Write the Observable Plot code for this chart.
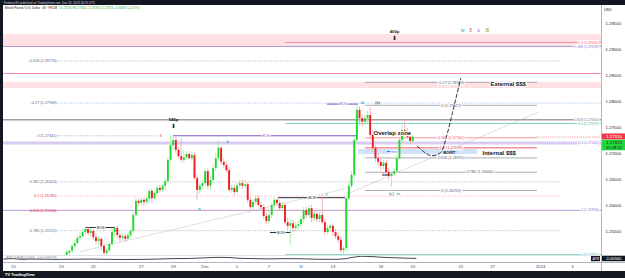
<!DOCTYPE html>
<html>
<head>
<meta charset="utf-8">
<script src="https://cdn.jsdelivr.net/npm/d3@7"></script>
<script src="https://cdn.jsdelivr.net/npm/@observablehq/plot@0.6"></script>
<style>
html,body{margin:0;padding:0;background:#fff;}
#wrap{position:relative;width:625px;height:278px;overflow:hidden;background:#fff;font-family:"Liberation Sans",Arial,sans-serif;}
.a{position:absolute;white-space:nowrap;}
</style>
</head>
<body>
<div id="wrap">
  <div id="main" class="a" style="left:3px;top:5px;"></div>
  <div id="atr" class="a" style="left:3px;top:255px;"></div>
  <div class="a" style="left:3px;top:255px;width:598px;height:1px;background:#e0e3eb;"></div>
  <div class="a" style="left:601px;top:5px;width:1px;height:266px;background:#b2b5be;"></div>
  <div class="a" style="left:3px;top:262px;width:622px;height:1px;background:#b2b5be;"></div>
  <div class="a" style="left:0;top:0;width:625px;height:5px;background:#131722;"></div>
  <div class="a" style="left:4px;top:0.5px;font-size:3px;line-height:4px;color:#d1d4dc;">Forbesxi30 published on TradingView.com, Dec 20, 2023 20:51 UTC</div>
  <div class="a" style="left:0;top:0;width:3px;height:278px;background:#131722;"></div>
  <div class="a" style="left:0;top:271px;width:625px;height:7px;background:#131722;"></div>
  <div class="a" style="left:5px;top:271.5px;font-size:4px;line-height:6px;color:#fff;font-weight:bold;">TV TradingView</div>
  <div id="legend" class="a" style="left:5px;top:6px;font-size:3px;line-height:4px;color:#131722;"></div>
  <div class="a" style="left:604px;top:7.5px;font-size:3.6px;color:#131722;">USD</div>
  <div id="atrlabel" class="a" style="left:6px;top:256px;font-size:3px;color:#787b86;"></div>
</div>
<script>
// ================= DATA =================
// 4-hour GBP/USD candles; x is the trading-day index (Nov 15 = 0)
const candleFirstDay = 3;      // first bar: Nov 20
const candlesPerDay = 6;
const candleOpen = [
 1.2490,1.2498,1.2502,1.2508,1.2512,1.2521,1.2527,1.2537,1.2540,1.2548,
 1.2554,1.2546,1.2550,1.2538,1.2531,1.2535,1.2521,1.2508,1.2513,1.2525,
 1.2548,1.2556,1.2542,1.2537,1.2540,1.2535,1.2542,1.2550,1.2581,1.2608,
 1.2604,1.2610,1.2606,1.2612,1.2627,1.2613,1.2623,1.2633,1.2629,1.2637,
 1.2646,1.2687,1.2715,1.2725,1.2706,1.2694,1.2687,1.2692,1.2698,1.2690,
 1.2696,1.2652,1.2629,1.2637,1.2642,1.2665,1.2637,1.2648,1.2671,1.2690,
 1.2710,1.2683,1.2677,1.2667,1.2629,1.2633,1.2625,1.2638,1.2642,1.2637,
 1.2640,1.2610,1.2596,1.2606,1.2613,1.2600,1.2596,1.2579,1.2569,1.2581,
 1.2600,1.2610,1.2604,1.2594,1.2600,1.2567,1.2560,1.2565,1.2556,1.2560,
 1.2563,1.2573,1.2590,1.2581,1.2594,1.2575,1.2583,1.2573,1.2581,1.2567,
 1.2548,1.2556,1.2560,1.2548,1.2540,1.2533,1.2513,1.2517,1.2613,1.2637,
 1.2658,1.2725,1.2783,1.2767,1.2760,1.2767,1.2773,1.2735,1.2710,1.2690,
 1.2683,1.2675,1.2681,1.2663,1.2656,1.2660,1.2665,1.2690,1.2725,1.2744,
 1.2740,1.2731,1.2723];
const candleHigh = [
 1.2502,1.2506,1.2513,1.2515,1.2525,1.2533,1.2542,1.2548,1.2554,1.2558,
 1.2558,1.2556,1.2554,1.2544,1.2540,1.2537,1.2525,1.2519,1.2529,1.2556,
 1.2560,1.2560,1.2546,1.2546,1.2546,1.2548,1.2554,1.2587,1.2613,1.2613,
 1.2615,1.2615,1.2617,1.2631,1.2631,1.2629,1.2638,1.2638,1.2642,1.2652,
 1.2692,1.2735,1.2733,1.2731,1.2713,1.2729,1.2706,1.2704,1.2704,1.2702,
 1.2700,1.2658,1.2642,1.2648,1.2671,1.2671,1.2656,1.2677,1.2700,1.2725,
 1.2713,1.2690,1.2683,1.2673,1.2640,1.2638,1.2644,1.2648,1.2648,1.2648,
 1.2644,1.2615,1.2612,1.2619,1.2619,1.2606,1.2602,1.2585,1.2587,1.2604,
 1.2615,1.2613,1.2610,1.2606,1.2604,1.2575,1.2573,1.2571,1.2567,1.2569,
 1.2579,1.2596,1.2596,1.2600,1.2600,1.2588,1.2588,1.2587,1.2619,1.2573,
 1.2562,1.2563,1.2565,1.2554,1.2546,1.2538,1.2521,1.2617,1.2644,1.2665,
 1.2731,1.2792,1.2790,1.2775,1.2773,1.2781,1.2788,1.2744,1.2715,1.2700,
 1.2690,1.2687,1.2687,1.2671,1.2665,1.2671,1.2696,1.2731,1.2754,1.2763,
 1.2748,1.2737,1.2735];
const candleLow = [
 1.2488,1.2494,1.2498,1.2504,1.2508,1.2517,1.2523,1.2531,1.2537,1.2542,
 1.2542,1.2540,1.2533,1.2525,1.2521,1.2513,1.2500,1.2500,1.2510,1.2521,
 1.2540,1.2537,1.2529,1.2531,1.2529,1.2533,1.2538,1.2546,1.2577,1.2598,
 1.2600,1.2598,1.2602,1.2608,1.2604,1.2610,1.2619,1.2623,1.2625,1.2629,
 1.2642,1.2683,1.2706,1.2700,1.2690,1.2683,1.2681,1.2687,1.2687,1.2685,
 1.2648,1.2610,1.2621,1.2629,1.2637,1.2631,1.2629,1.2642,1.2665,1.2685,
 1.2677,1.2671,1.2662,1.2625,1.2623,1.2619,1.2621,1.2633,1.2631,1.2633,
 1.2604,1.2590,1.2590,1.2600,1.2596,1.2590,1.2573,1.2563,1.2565,1.2575,
 1.2594,1.2598,1.2590,1.2588,1.2562,1.2552,1.2523,1.2548,1.2550,1.2552,
 1.2558,1.2567,1.2575,1.2575,1.2567,1.2569,1.2567,1.2567,1.2563,1.2542,
 1.2544,1.2550,1.2540,1.2535,1.2527,1.2508,1.2506,1.2510,1.2610,1.2633,
 1.2652,1.2721,1.2754,1.2752,1.2754,1.2758,1.2725,1.2702,1.2683,1.2675,
 1.2667,1.2669,1.2658,1.2648,1.2635,1.2656,1.2662,1.2687,1.2721,1.2735,
 1.2727,1.2719,1.2719];
const candleClose = [
 1.2498,1.2502,1.2510,1.2512,1.2521,1.2527,1.2537,1.2540,1.2548,1.2554,
 1.2546,1.2550,1.2538,1.2531,1.2535,1.2521,1.2508,1.2513,1.2525,1.2548,
 1.2556,1.2542,1.2537,1.2540,1.2535,1.2542,1.2550,1.2581,1.2608,1.2604,
 1.2610,1.2606,1.2612,1.2627,1.2613,1.2623,1.2633,1.2629,1.2637,1.2646,
 1.2687,1.2715,1.2725,1.2706,1.2694,1.2687,1.2692,1.2698,1.2690,1.2696,
 1.2652,1.2629,1.2637,1.2642,1.2665,1.2637,1.2648,1.2671,1.2690,1.2710,
 1.2683,1.2677,1.2667,1.2629,1.2633,1.2625,1.2638,1.2642,1.2637,1.2640,
 1.2610,1.2596,1.2606,1.2613,1.2600,1.2596,1.2579,1.2569,1.2581,1.2600,
 1.2610,1.2604,1.2594,1.2600,1.2567,1.2560,1.2565,1.2556,1.2560,1.2563,
 1.2573,1.2590,1.2581,1.2594,1.2575,1.2583,1.2573,1.2581,1.2567,1.2548,
 1.2556,1.2560,1.2548,1.2540,1.2533,1.2513,1.2517,1.2613,1.2637,1.2658,
 1.2725,1.2783,1.2767,1.2760,1.2767,1.2773,1.2735,1.2710,1.2690,1.2683,
 1.2675,1.2681,1.2663,1.2656,1.2660,1.2665,1.2690,1.2725,1.2744,1.2740,
 1.2731,1.2723,1.27313];

const dateTickDay   = [0, 3, 5, 8, 10, 12, 14, 16, 18, 20, 23, 25, 28, 30, 33, 35];
const dateTickLabel = ["15","20","22","27","29","Dec","5","7","11","13","18","20","25","27","2024","3"];
const priceTicks = [1.255, 1.26, 1.265, 1.27, 1.275, 1.28, 1.285, 1.29, 1.295];

// ATR(14) pane
const atrDay   = [-0.6,0,0.5,1,2,3,4,5,6,7,8,9,10,11,12,12.8,13.5,14,15,16,17,18,19,20,20.8,21.3,21.8,22.5,23,24,25.2];
const atrValue = [0.0052,0.0055,0.0050,0.0052,0.0051,0.0050,0.0051,0.0052,0.0050,0.0049,0.0050,0.0052,0.0055,0.0056,0.0060,0.0063,0.0062,0.0058,0.0055,0.0053,0.0055,0.0054,0.0051,0.0050,0.0055,0.0064,0.0070,0.0068,0.0064,0.0060,0.0056];
const atrLabel = 0.00560;

// Fibonacci (Nov swing) - left
const fibLeftRatio = [-0.618, -0.27, 0, 0.382, 0.5, 0.618, 0.786, 1];
const fibLeftPrice = [1.28776, 1.27968, 1.27341, 1.26454, 1.26180, 1.25906, 1.25515, 1.25019];
const fibLeftFrom = 2.76;
const fibLeftTo = [34.25, 36.82, 9.0, 34.25, 34.25, 34.25, 34.25, 34.25];

// Fibonacci (Dec 14 high -> Dec 18 low) - right
const fibRightRatio = [-0.27, 0, 0.382, 0.5, 0.618, 0.786, 1];
const fibRightPrice = [1.28369, 1.27927, 1.27302, 1.27109, 1.26915, 1.26640, 1.26290];
const fibRightFrom = 22.04, fibRightTo = 32.81;
const fibRightLabelDay = [27.4, 27.4, 27.4, 27.4, 27.4, 29.2, 27.4];

// horizontal levels
const fullPurple = [1.29058, 1.25906];
const fullPink = [1.28538];
const fullGrayThick = [1.27650];
const fullLavender = [1.27202];
const rayPinkFrom = 17.03, rayPink = [1.29135];
const rayTealFrom = 17.03, rayTeal = [1.27577, 1.25057];
const pinkZoneHi = [1.29288, 1.28365];
const pinkZoneLo = [1.29038, 1.28250];
const internalZone = {from: 21.6, to: 29.05, hi: 1.27077, lo: 1.26981};
const rightTagPrice = [1.29135, 1.29058, 1.27650, 1.27577, 1.27202, 1.25906, 1.25057];
const rightTagText = ["1.5 (1.29135)", "1.386 (1.29058)", "0.618 (1.27650)", "0.5 (1.27577)", "0.5 (1.27202)", "0 (1.25906)", "1 (1.25057)"];
const alertPrice = 1.27316;
const countdown = "01:08:12";

// structure breaks: [fromDay, toDay, price]
const bosBlack = [[4.51, 6.39, 1.25577], [16.09, 17.4, 1.25481]];
const ibosBlack = [[16.59, 20.79, 1.26150]];
const bosPurple = [[10.02, 21.6, 1.27341], [19.66, 21.6, 1.27950]];
const mssBlue = [[23.42, 24.23, 1.27038]];

// wave labels: [text, day, price]
const cyanWave = [["b", 13.4, 1.27231], ["a", 11.65, 1.25942], ["1", 19.6, 1.26212], ["iii", 21.85, 1.27981], ["iv", 24.1, 1.26231]];
const redWave = [["3", 9.2, 1.27342]];
const darkWave = [["(b)", 22.8, 1.27981], ["(c)", 23.67, 1.26231]];
const waveKeyText = ["iv", "5", "c", "B"];
const waveKeyDay = [28.12, 28.62, 29.12, 29.68];
const waveKeyPrice = 1.29365;

// move sizes
const moveText = ["545p", "400p"];
const moveDay = [10.02, 23.86];
const movePrice = [1.27654, 1.29346];

// notes: [text, day, price]
const bigNotes = [["Overlap zone", 22.54, 1.27385], ["External $$$", 29.87, 1.28327], ["Internal $$$", 29.37, 1.27000]];
const smallNotes = [["BO/RT", 27.3, 1.27019], ["bos", 23.3, 1.26596]];

// projected path
const projDay = [25.30, 26.11, 26.74, 27.11, 27.49, 28.0];
const projPrice = [1.27135, 1.26962, 1.27019, 1.27327, 1.27788, 1.28442];

// faint trend lines
const trendA = [[4.2, 1.25115], [20.79, 1.26326]];
const trendB = [[21.1, 1.26250], [32.8, 1.27788]];

// ================= DRAW =================
const xDom = [-0.626, 36.819];
const yDom = [1.250385, 1.298462];
const W = 622, H = 250, MR = 24;
const xs = d3.scaleLinear().domain(xDom).range([0, W - MR]);
const axisEnd = xs.invert(W);
const axisStart = xs.invert(W - MR + 1);

const candles = candleOpen.map((o, i) => ({
  day: candleFirstDay + i / candlesPerDay,
  open: o, high: candleHigh[i], low: candleLow[i], close: candleClose[i]
}));
const up = candles.filter(d => d.close >= d.open);
const dn = candles.filter(d => d.close < d.open);
const last = candles[candles.length - 1];
const prev = candles[candles.length - 2];

const GREEN = "#1fd82b", RED = "#ef1c24", GW = "#9fe8a3", RW = "#f6a0a5";
const GRAYL = "#a3a6af", GRAYT = "#6a6d78";
const halo = {stroke: "white", strokeWidth: 2, paintOrder: "stroke"};

const fibL = fibLeftRatio.map((r, i) => ({r, p: fibLeftPrice[i], to: fibLeftTo[i]}));
const fibR = fibRightRatio.map((r, i) => ({r, p: fibRightPrice[i], lx: fibRightLabelDay[i]}));
const leftLine = r => r === -0.27 ? "#8fb4ee" : (r === 0.5 || r === 0.618) ? "#f7a3ab" : GRAYL;
const leftText = r => (r === 0.5 || r === 0.618) ? "#f23645" : GRAYT;
const rightLine = r => r === 0.382 ? "#f77c80" : r === 0.5 ? "#f23645" : "#9598a1";
const rightText = r => r === 0.382 ? "#f7525f" : r === 0.5 ? "#f23645" : "#5d606b";
const tagColors = ["#f7525f", "#9575cd", "#787b86", "#3fae86", "#9575cd", "#9575cd", "#3fae86"];
const keyColors = ["#26c6da", "#f06292", "#9575cd", "#b5b81f"];
const seg = a => a.map(([a1, a2, p]) => ({a1, a2, p, mid: (a1 + a2) / 2}));

const marks = [
  // zones
  Plot.rect(pinkZoneHi.map((h, i) => ({h, l: pinkZoneLo[i]})), {x1: xDom[0], x2: xDom[1], y1: "l", y2: "h", fill: "#fde1e4"}),
  Plot.rect([internalZone], {x1: "from", x2: "to", y1: "lo", y2: "hi", fill: "#d2e2f6"}),
  // horizontal lines
  Plot.ruleY(fullLavender, {stroke: "#d8cdf0", strokeWidth: 3}),
  Plot.ruleY(fullGrayThick, {stroke: "#a0a0a0", strokeWidth: 1.6}),
  Plot.ruleY(fullPurple, {stroke: "#b39ddb", strokeWidth: 1}),
  Plot.ruleY(fullPink, {stroke: "#f48fb1", strokeWidth: 1}),
  Plot.ruleY(rayPink, {x1: rayPinkFrom, x2: xDom[1], stroke: "#f48fb1", strokeWidth: 1}),
  Plot.ruleY(rayTeal, {x1: rayTealFrom, x2: xDom[1], stroke: "#80d8bf", strokeWidth: 1}),
  // left fib
  Plot.ruleY(fibL, {y: "p", x1: fibLeftFrom, x2: "to", stroke: d => leftLine(d.r), strokeWidth: 0.8, strokeDasharray: "1,1.3", clip: true}),
  Plot.text(fibL, {x: fibLeftFrom, y: "p", text: d => `${d.r} (${d.p.toFixed(5)})`, textAnchor: "end", dx: -1, fontSize: 3.8, fill: d => leftText(d.r)}),
  // right fib
  Plot.ruleY(fibR, {y: "p", x1: fibRightFrom, x2: fibRightTo, stroke: d => rightLine(d.r), strokeWidth: 0.8}),
  Plot.text(fibR, {x: "lx", y: "p", text: d => `${d.r} (${d.p.toFixed(5)})`, fontSize: 3.8, fill: d => rightText(d.r), ...halo}),
  // trend lines
  Plot.line(trendA, {x: d => d[0], y: d => d[1], stroke: "#b2b5be", strokeWidth: 0.6, strokeDasharray: "1,1.5"}),
  Plot.line(trendB, {x: d => d[0], y: d => d[1], stroke: "#b2b5be", strokeWidth: 0.6, strokeDasharray: "1,1.5"}),
  // structure
  Plot.ruleY(seg(bosPurple), {y: "p", x1: "a1", x2: "a2", stroke: "#7e57c2", strokeWidth: 1}),
  Plot.ruleY(seg(bosBlack), {y: "p", x1: "a1", x2: "a2", stroke: "#131722", strokeWidth: 0.9}),
  Plot.ruleY(seg(ibosBlack), {y: "p", x1: "a1", x2: "a2", stroke: "#131722", strokeWidth: 0.9}),
  Plot.ruleY(seg(mssBlue), {y: "p", x1: "a1", x2: "a2", stroke: "#2962ff", strokeWidth: 0.9}),
  // candles
  Plot.ruleX(up, {x: "day", y1: "low", y2: "high", stroke: GW, strokeWidth: 0.8, clip: true}),
  Plot.ruleX(dn, {x: "day", y1: "low", y2: "high", stroke: RW, strokeWidth: 0.8, clip: true}),
  Plot.ruleX(up, {x: "day", y1: "open", y2: "close", stroke: GREEN, strokeWidth: 1.9, clip: true}),
  Plot.ruleX(dn, {x: "day", y1: "open", y2: "close", stroke: RED, strokeWidth: 1.9, clip: true}),
  // price lines
  Plot.ruleY([alertPrice], {x1: fibRightTo, x2: xDom[1], stroke: "#f7525f", strokeWidth: 0.7, strokeDasharray: "1,1.2"}),
  // projection
  Plot.line(projDay.map((d, i) => ({d, p: projPrice[i]})), {x: "d", y: "p", stroke: "#131722", strokeWidth: 0.9, strokeDasharray: "3.5,2.5", curve: "catmull-rom"}),
  // structure labels
  Plot.text(seg(bosPurple), {x: "mid", y: "p", text: () => "BOS", fontSize: 3.6, fill: "#7e57c2", ...halo}),
  Plot.text(seg(bosBlack), {x: "mid", y: "p", text: () => "BOS", fontSize: 3.6, fill: "#131722", ...halo}),
  Plot.text(seg(ibosBlack), {x: "mid", y: "p", text: () => "iBOS", fontSize: 3.6, fill: "#131722", ...halo}),
  Plot.text(seg(mssBlue), {x: "mid", y: "p", text: () => "mss", fontSize: 3.4, fill: "#2962ff", ...halo}),
  // waves
  Plot.text(cyanWave, {x: d => d[1], y: d => d[2], text: d => d[0], fontSize: 4.4, fill: "#26b5da", fontWeight: "bold"}),
  Plot.text(redWave, {x: d => d[1], y: d => d[2], text: d => d[0], fontSize: 4.4, fill: "#f23645"}),
  Plot.text(darkWave, {x: d => d[1], y: d => d[2], text: d => d[0], fontSize: 4.4, fill: "#434651"}),
  Plot.text(waveKeyText.map((t, i) => ({t, d: waveKeyDay[i], c: keyColors[i]})), {x: "d", y: () => waveKeyPrice, text: "t", fill: "c", fontSize: 4.6, fontWeight: "bold"}),
  // moves
  Plot.text(moveText.map((t, i) => ({t, d: moveDay[i], p: movePrice[i]})), {x: "d", y: "p", text: "t", fontSize: 4.2, fontWeight: "bold", fill: "#131722"}),
  Plot.text(moveText.map((t, i) => ({t, d: moveDay[i], p: movePrice[i]})), {x: "d", y: "p", text: () => "⬇", dy: 6.5, fontSize: 6, fontFamily: "DejaVu Sans", fill: "#131722"}),
  // notes
  Plot.text(bigNotes, {x: d => d[1], y: d => d[2], text: d => d[0], textAnchor: "start", fontSize: 6, fontWeight: "bold", fill: "#131722", ...halo}),
  Plot.text(smallNotes, {x: d => d[1], y: d => d[2], text: d => d[0], fontSize: 3.8, fontWeight: "bold", fill: "#131722"}),
  // right tags
  Plot.text(rightTagPrice.map((p, i) => ({p, t: rightTagText[i], c: tagColors[i]})), {x: xDom[1], y: "p", text: "t", fill: "c", textAnchor: "end", dx: -3, fontSize: 3.4, ...halo}),
  // axis price boxes
  Plot.ruleY([alertPrice], {x1: axisStart, x2: axisEnd, stroke: "#f23645", strokeWidth: 6, dy: -0.6, clip: false}),
  Plot.text([alertPrice], {x: (axisStart + axisEnd) / 2, y: d => d, text: d => d.toFixed(5), fill: "white", dy: -0.6, fontSize: 4.3, clip: false}),
  Plot.ruleY([last.close], {x1: axisStart, x2: axisEnd, stroke: "#22d63a", strokeWidth: 10.6, dy: 7.8, clip: false}),
  Plot.text([last.close], {x: (axisStart + axisEnd) / 2, y: d => d, text: d => d.toFixed(5), fill: "#131722", dy: 5, fontSize: 4.3, clip: false}),
  Plot.text([last.close], {x: (axisStart + axisEnd) / 2, y: d => d, text: () => countdown, fill: "#131722", dy: 10.5, fontSize: 4.1, clip: false})
];

const main = Plot.plot({
  width: W, height: H,
  marginLeft: 0, marginRight: MR, marginTop: 0, marginBottom: 0,
  x: {domain: xDom, axis: null, label: null},
  y: {domain: yDom, axis: "right", label: null, ticks: priceTicks, tickFormat: d => d.toFixed(5), tickSize: 0, tickPadding: 4},
  color: {type: "identity"},
  style: {fontFamily: "Liberation Sans, Arial, sans-serif", fontSize: "4.3px", color: "#131722", background: "transparent", overflow: "visible"},
  marks
});
document.getElementById("main").appendChild(main);

// ATR pane + date axis
const tickMap = new Map(dateTickDay.map((d, i) => [d, dateTickLabel[i]]));
const atrData = atrDay.map((d, i) => ({d, v: atrValue[i]}));
const atrPlot = Plot.plot({
  width: W, height: 16,
  marginLeft: 0, marginRight: MR, marginTop: 0, marginBottom: 9,
  x: {domain: xDom, axis: "bottom", label: null, ticks: dateTickDay, tickFormat: d => tickMap.get(d), tickSize: 0, tickPadding: 2},
  y: {domain: [0.003, 0.0075], axis: null, label: null},
  style: {fontFamily: "Liberation Sans, Arial, sans-serif", fontSize: "4.3px", color: "#434651", background: "transparent", overflow: "visible"},
  marks: [
    Plot.line(atrData, {x: "d", y: "v", stroke: "#131722", strokeWidth: 0.8, curve: "monotone-x"}),
    Plot.ruleY([atrLabel], {x1: axisStart, x2: axisEnd, stroke: "#131722", strokeWidth: 5.5, clip: false}),
    Plot.text([atrLabel], {x: (axisStart + axisEnd) / 2, y: d => d, text: d => d.toFixed(5), fill: "white", fontSize: 4.1, clip: false}),
    Plot.ruleY([atrLabel], {x1: xs.invert(W - MR - 10), x2: xs.invert(W - MR - 1), stroke: "#131722", strokeWidth: 5.5}),
    Plot.text([atrLabel], {x: xs.invert(W - MR - 5.5), y: d => d, text: () => "ATR", fill: "white", fontSize: 3.6})
  ]
});
document.getElementById("atr").appendChild(atrPlot);

// legend texts built from the data
const chg = last.close - prev.close;
const sgn = chg >= 0 ? "+" : "−";
document.getElementById("legend").innerHTML =
  `British Pound / U.S. Dollar · 4h · FXCM &nbsp;<span style="color:#22b23a">O${last.open.toFixed(5)} H${last.high.toFixed(5)} L${last.low.toFixed(5)} C${last.close.toFixed(5)} ${sgn}${Math.abs(chg).toFixed(5)} (${sgn}${Math.abs(chg / prev.close * 100).toFixed(2)}%)</span>`;
document.getElementById("atrlabel").textContent = `ATR 14 RMA  ${atrLabel.toFixed(5)}`;
</script>
</body>
</html>
